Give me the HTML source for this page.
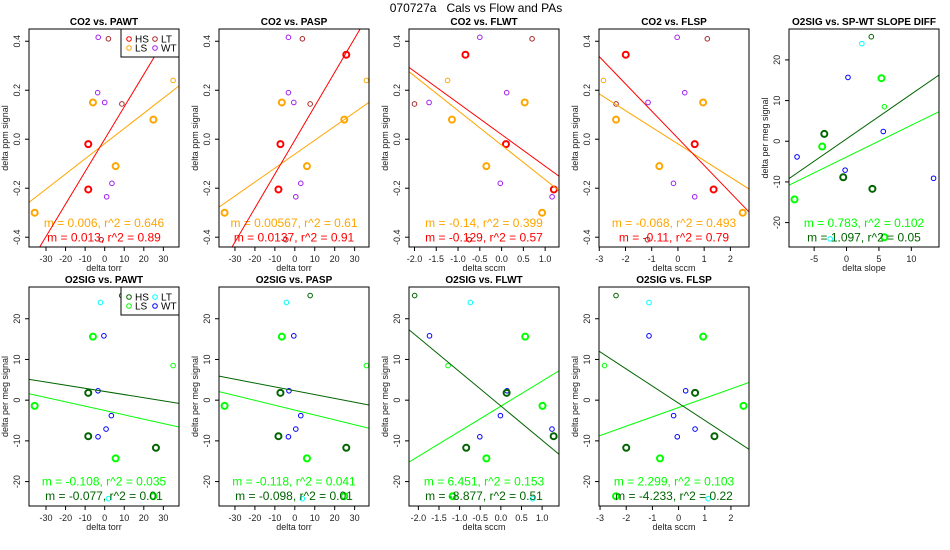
<!DOCTYPE html>
<html><head><meta charset="utf-8">
<style>
html,body{margin:0;padding:0;background:#fff;}
svg{display:block;font-family:"Liberation Sans",sans-serif;}
</style></head>
<body>
<svg id="chart" width="950" height="550" viewBox="0 0 950 550" xmlns="http://www.w3.org/2000/svg">
<text x="476" y="12" font-size="12" text-anchor="middle">070727a&#160;&#160;&#160;Cals vs Flow and PAs</text>
</svg>
<script>
// ---- data arrays ----
const co2PawtX=[-3.3,-3.6,0,3.7,1.0,1.9,8.8,-1.8,-6,24.9,5.6,-35.8,35,-8.4,-8.4];
const co2PawtY=[0.416,0.19,0.15,-0.18,-0.235,0.41,0.144,-0.41,0.15,0.08,-0.11,-0.30,0.24,-0.02,-0.205];
const co2PawtG=["WT","WT","WT","WT","WT","LT","LT","LT","LS","LS","LS","LS","LS","HS","HS"];
const co2PawtF=[0,0,0,0,0,0,0,0,1,1,1,1,0,1,1];

const co2PaspX=[-3.2,-3.2,-0.5,3.0,0.5,3.8,7.7,-4.5,-6.5,24.8,6.1,-35.2,35.9,-7.2,-8.2,25.8];
const co2PaspY=[0.416,0.19,0.15,-0.18,-0.235,0.41,0.144,-0.41,0.15,0.08,-0.11,-0.30,0.24,-0.02,-0.205,0.345];
const co2PaspG=["WT","WT","WT","WT","WT","LT","LT","LT","LS","LS","LS","LS","LS","HS","HS","HS"];
const co2PaspF=[0,0,0,0,0,0,0,0,1,1,1,1,0,1,1,1];

const co2FlwtX=[-0.5,0.117,-1.665,-0.03,1.16,0.7,-2.0,-0.74,0.53,-1.14,-0.35,0.93,-1.24,-0.83,0.10,1.2];
const co2FlwtY=[0.416,0.19,0.15,-0.18,-0.235,0.41,0.144,-0.41,0.15,0.08,-0.11,-0.30,0.24,0.345,-0.02,-0.205];
const co2FlwtG=["WT","WT","WT","WT","WT","LT","LT","LT","LS","LS","LS","LS","LS","HS","HS","HS"];
const co2FlwtF=[0,0,0,0,0,0,0,0,1,1,1,1,0,1,1,1];

const co2FlspX=[-0.03,0.26,-1.14,-0.17,0.64,1.12,-2.36,-1.16,0.96,-2.36,-0.71,2.47,-2.84,-1.99,0.64,1.36];
const co2FlspY=[0.416,0.19,0.15,-0.18,-0.235,0.41,0.144,-0.41,0.15,0.08,-0.11,-0.30,0.24,0.345,-0.02,-0.205];
const co2FlspG=co2FlwtG;
const co2FlspF=co2FlwtF;

const slopeDiffX=[0.22,-7.64,-0.22,5.67,13.43,2.36,-2.53,-3.43,-0.51,3.99,3.82,-3.76,5.39,-8.03,5.84,5.84];
const slopeDiffY=[15.7,-3.85,-7.1,2.4,-9.1,24.0,-24.0,1.8,-8.85,-11.7,25.7,-1.3,15.5,-14.3,-23.6,8.5];
const o2G=["WT","WT","WT","WT","WT","LT","LT","HS","HS","HS","HS","LS","LS","LS","LS","LS"];
const o2F=[0,0,0,0,0,0,0,1,1,1,0,1,1,1,1,0];

const o2PawtX=[-0.4,-3.4,3.4,0.7,-3.4,-2.2,1.9,-8.4,-8.4,26.2,8.7,-6,-35.8,5.6,24.9,35];
const o2PawtY=[15.8,2.3,-3.8,-7.1,-9.0,24.0,-24.2,1.8,-8.85,-11.7,25.7,15.6,-1.4,-14.3,-23.6,8.5];
const o2PaspX=[-0.5,-2.9,3.0,0.5,-3.2,-4.2,3.8,-7.2,-8.2,25.8,7.7,-6.5,-35.2,6.1,24.8,35.9];
const o2PaspY=o2PawtY;
const o2FlwtX=[-1.73,0.15,-0.01,1.24,-0.51,-0.74,0.77,0.14,1.28,-0.84,-2.09,0.59,1.01,-0.35,-1.17,-1.28];
const o2FlwtY=[15.8,2.3,-3.8,-7.1,-9.0,24.0,-24.2,1.8,-8.85,-11.7,25.7,15.6,-1.4,-14.3,-23.6,8.5];
const o2FlspX=[-1.13,0.27,-0.19,0.63,-0.05,-1.13,1.13,0.63,1.37,-2.0,-2.39,0.94,2.48,-0.71,-2.39,-2.83];
const o2FlspY=o2FlwtY;

// fit lines: [LS slope, HS slope] and [LS intercept, HS intercept]
const fitSlopes=[[0.0062,0.01324],[0.00569,0.01386],[-0.141,-0.129],[-0.068,-0.111],[0.78,1.10],[-0.1065,-0.077],[-0.12,-0.0944],[6.16,-8.41],[2.29,-4.21]];
const fitIntercepts=[[-0.018,0.0],[-0.061,-0.004],[-0.024,0.019],[-0.019,0.004],[-3.86,0.59],[-2.54,2.14],[-2.45,2.31],[-1.48,-1.43],[-1.81,-0.75]];
const fitLabels=[
 ["m = 0.006, r^2 = 0.646","m = 0.013, r^2 = 0.89"],
 ["m = 0.00567, r^2 = 0.61","m = 0.0137, r^2 = 0.91"],
 ["m = -0.14, r^2 = 0.399","m = -0.129, r^2 = 0.57"],
 ["m = -0.068, r^2 = 0.493","m = -0.11, r^2 = 0.79"],
 ["m = 0.783, r^2 = 0.102","m = 1.097, r^2 = 0.05"],
 ["m = -0.108, r^2 = 0.035","m = -0.077, r^2 = 0.01"],
 ["m = -0.118, r^2 = 0.041","m = -0.098, r^2 = 0.01"],
 ["m = 6.451, r^2 = 0.153","m = -8.877, r^2 = 0.51"],
 ["m = 2.299, r^2 = 0.103","m = -4.233, r^2 = 0.22"]];
const panelTitles=["CO2 vs. PAWT","CO2 vs. PASP","CO2 vs. FLWT","CO2 vs. FLSP","O2SIG vs. SP-WT SLOPE DIFF","O2SIG vs. PAWT","O2SIG vs. PASP","O2SIG vs. FLWT","O2SIG vs. FLSP"];
const xTitles=["delta torr","delta torr","delta sccm","delta sccm","delta slope","delta torr","delta torr","delta sccm","delta sccm"];
const torrTicks=[-30,-20,-10,0,10,20,30];
const flwtTicks=["-2.0","-1.5","-1.0","-0.5","0.0","0.5","1.0"];
const flspTicks=[-3,-2,-1,0,1,2];
const slopeTicks=[-5,0,5,10];
const co2YTicks=["-0.4","-0.2","0.0","0.2","0.4"];
const o2YTicks=[-20,-10,0,10,20];

const NS="http://www.w3.org/2000/svg";
const svg=document.getElementById('chart');
function mk(tag,attrs,parent){const e=document.createElementNS(NS,tag);for(const k in attrs)e.setAttribute(k,attrs[k]);(parent||svg).appendChild(e);return e;}

const co2Col={HS:"#ff0000",LS:"#ffa500",LT:"#a52a2a",WT:"#a020f0"};
const o2Col={HS:"#006400",LS:"#00ff00",LT:"#00ffff",WT:"#0000ff"};

const panels=[
 {col:0,row:0,xd:[-38.7,38.0],yd:[-0.44,0.45],xs:co2PawtX,ys:co2PawtY,g:co2PawtG,f:co2PawtF,xt:torrTicks,yt:co2YTicks,c:co2Col,yl:"delta ppm signal",leg:true},
 {col:1,row:0,xd:[-38.0,37.2],yd:[-0.44,0.45],xs:co2PaspX,ys:co2PaspY,g:co2PaspG,f:co2PaspF,xt:torrTicks,yt:co2YTicks,c:co2Col,yl:"delta ppm signal"},
 {col:2,row:0,xd:[-2.126,1.318],yd:[-0.44,0.45],xs:co2FlwtX,ys:co2FlwtY,g:co2FlwtG,f:co2FlwtF,xt:flwtTicks,yt:co2YTicks,c:co2Col,yl:"delta ppm signal"},
 {col:3,row:0,xd:[-3.01,2.71],yd:[-0.44,0.45],xs:co2FlspX,ys:co2FlspY,g:co2FlspG,f:co2FlspF,xt:flspTicks,yt:co2YTicks,c:co2Col,yl:"delta ppm signal"},
 {col:4,row:0,xd:[-8.88,14.27],yd:[-26.0,27.6],xs:slopeDiffX,ys:slopeDiffY,g:o2G,f:o2F,xt:slopeTicks,yt:o2YTicks,c:o2Col,yl:"delta per meg signal"},
 {col:0,row:1,xd:[-38.7,38.0],yd:[-26.0,27.8],xs:o2PawtX,ys:o2PawtY,g:o2G,f:o2F,xt:torrTicks,yt:o2YTicks,c:o2Col,yl:"delta per meg signal",leg:true},
 {col:1,row:1,xd:[-38.0,37.2],yd:[-26.0,27.8],xs:o2PaspX,ys:o2PaspY,g:o2G,f:o2F,xt:torrTicks,yt:o2YTicks,c:o2Col,yl:"delta per meg signal"},
 {col:2,row:1,xd:[-2.227,1.41],yd:[-26.0,27.8],xs:o2FlwtX,ys:o2FlwtY,g:o2G,f:o2F,xt:flwtTicks,yt:o2YTicks,c:o2Col,yl:"delta per meg signal"},
 {col:3,row:1,xd:[-3.04,2.69],yd:[-26.0,27.8],xs:o2FlspX,ys:o2FlspY,g:o2G,f:o2F,xt:flspTicks,yt:o2YTicks,c:o2Col,yl:"delta per meg signal"}
];

panels.forEach((p,i)=>{
  const L=p.col*190+29, W=150, T=p.row===0?29:287, H=p.row===0?218:219;
  const sx=v=>L+(v-p.xd[0])/(p.xd[1]-p.xd[0])*W;
  const sy=v=>T+H-(v-p.yd[0])/(p.yd[1]-p.yd[0])*H;
  const g=mk('g',{});
  
  
  const cp=mk('clipPath',{id:'cp'+i},g);
  mk('rect',{x:L,y:T,width:W,height:H},cp);
  const t=mk('text',{x:L+W/2,y:T-4,'font-size':10,'font-weight':'bold','text-anchor':'middle'},g);
  t.textContent=panelTitles[i];
  
  
  p.xs.forEach((xv,k)=>{
    const c=mk('circle',{cx:sx(xv),cy:sy(p.ys[k]),r:p.f[k]?3:2.3,fill:'none',stroke:p.c[p.g[k]],'stroke-width':p.f[k]?2:1,'clip-path':'url(#cp'+i+')'},g);
    
    
  });
  ['LS','HS'].forEach((grp,j)=>{
    const m=fitSlopes[i][j], b=fitIntercepts[i][j];
    const ln=mk('line',{x1:sx(p.xd[0]),y1:sy(m*p.xd[0]+b),x2:sx(p.xd[1]),y2:sy(m*p.xd[1]+b),stroke:p.c[grp],'stroke-width':1,'clip-path':'url(#cp'+i+')'},g);
    
    
    const tx=mk('text',{x:L+W/2,y:(p.row===0?227:485.5)+j*14.5,'font-size':12,fill:p.c[grp],'text-anchor':'middle'},g);
    tx.textContent=fitLabels[i][j];
    
    
  });
  const bx=mk('rect',{x:L,y:T,width:W,height:H,fill:'none',stroke:'#000','stroke-width':1},g);
  
  
  p.xt.forEach(v=>{
    const X=sx(parseFloat(v));
    mk('line',{x1:X,y1:T+H,x2:X,y2:T+H+4,stroke:'#000'},g);
    const tl=mk('text',{x:X,y:T+H+15,'font-size':9,'text-anchor':'middle',fill:'#222'},g);
    tl.textContent=v;
    
    
  });
  const xt=mk('text',{x:L+W/2,y:T+H+24,'font-size':9,'text-anchor':'middle',fill:'#222'},g);
  xt.textContent=xTitles[i];
  
  
  p.yt.forEach(v=>{
    const Y=sy(parseFloat(v));
    mk('line',{x1:L-4,y1:Y,x2:L,y2:Y,stroke:'#000'},g);
    const tl=mk('text',{x:0,y:0,'font-size':9,'text-anchor':'middle',fill:'#222',transform:'translate('+(L-9)+','+Y+') rotate(-90)'},g);
    tl.textContent=v;
    
    
  });
  const yt=mk('text',{x:0,y:0,'font-size':9,'text-anchor':'middle',fill:'#222',transform:'translate('+(L-21)+','+(T+H/2)+') rotate(-90)'},g);
  yt.textContent=p.yl;
  
  
  if(p.leg){
    const lg=mk('g',{},g);
    
    
    mk('rect',{x:121,y:T,width:58,height:28,fill:'#fff',stroke:'#000'},lg);
    [["HS",129,T+10],["LS",129,T+19],["LT",155,T+10],["WT",155,T+19]].forEach(e=>{
      const en=mk('g',{},lg);
      
      
      mk('circle',{cx:e[1],cy:e[2],r:2.3,fill:'none',stroke:p.c[e[0]]},en);
      const lt=mk('text',{x:e[1]+6,y:e[2]+3.5,'font-size':10},en);
      lt.textContent=e[0];
    });
  }
});
</script>
</body></html>
